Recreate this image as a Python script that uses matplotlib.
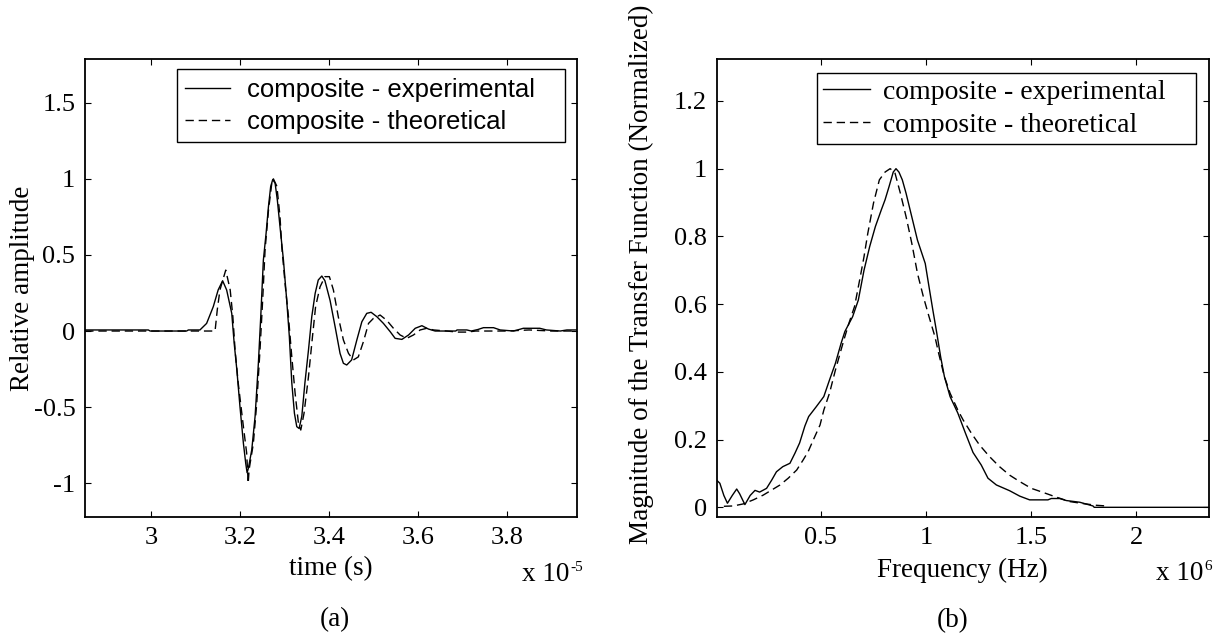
import matplotlib
matplotlib.use("Agg")
import matplotlib.pyplot as plt

# ---------------- data ----------------
# (a) time in units of 1e-5 s
t_exp = [2.852, 2.994, 2.998, 3.080, 3.084, 3.110, 3.125, 3.140, 3.151, 3.161, 3.170,
         3.1815, 3.187, 3.193, 3.200, 3.2077, 3.213, 3.216, 3.219, 3.2265, 3.234,
         3.2414, 3.2467, 3.2526, 3.2587, 3.264, 3.269, 3.2737, 3.279, 3.284, 3.290,
         3.2977, 3.305, 3.311, 3.3165, 3.3224, 3.3277, 3.333, 3.339, 3.346, 3.354,
         3.3614, 3.369, 3.376, 3.384, 3.391, 3.4026, 3.4139, 3.425, 3.4325, 3.440,
         3.451, 3.4627, 3.474, 3.485, 3.4948, 3.5077, 3.5225, 3.5376, 3.5488, 3.564,
         3.579, 3.594, 3.609, 3.6237, 3.6388, 3.665, 3.685, 3.688, 3.71, 3.72,
         3.735, 3.7474, 3.77, 3.785, 3.815, 3.83, 3.837, 3.874, 3.889, 3.92, 3.935, 3.957]
y_exp = [0.007, 0.007, 0.0, 0.0, 0.007, 0.007, 0.05, 0.16, 0.27, 0.33, 0.27,
         0.116, -0.081, -0.256, -0.497, -0.737, -0.87, -0.93, -0.90, -0.78, -0.56,
         -0.21, 0.094, 0.466, 0.641, 0.816, 0.948, 0.995, 0.97, 0.86, 0.685,
         0.466, 0.204, -0.037, -0.34, -0.54, -0.628, -0.64, -0.56, -0.34, -0.125,
         0.094, 0.247, 0.335, 0.361, 0.33, 0.20, 0.028, -0.147, -0.212, -0.223,
         -0.19, -0.059, 0.061, 0.116, 0.123, 0.094, 0.05, -0.004, -0.048, -0.055,
         -0.026, 0.018, 0.035, 0.013, 0.0, 0.0, 0.0, 0.007, 0.007, 0.0,
         0.01, 0.022, 0.022, 0.007, 0.0, 0.012, 0.018, 0.018, 0.007, 0.0, 0.007, 0.007]

t_theo = [2.852, 3.144, 3.149, 3.155, 3.168, 3.178, 3.184, 3.189, 3.196, 3.2077, 3.215,
          3.2185, 3.2205, 3.230, 3.2377, 3.245, 3.251, 3.2564, 3.264, 3.2715, 3.275,
          3.283, 3.290, 3.294, 3.3014, 3.309, 3.3165, 3.324, 3.3314, 3.3367, 3.344,
          3.354, 3.363, 3.370, 3.380, 3.391, 3.401, 3.410, 3.421, 3.4325, 3.444,
          3.455, 3.466, 3.4775, 3.489, 3.500, 3.515, 3.530, 3.545, 3.560, 3.575,
          3.590, 3.605, 3.620, 3.635, 3.665, 3.688, 3.71, 3.73, 3.80, 3.85, 3.90, 3.957]
y_theo = [0.0, 0.0, 0.14, 0.27, 0.40, 0.27, 0.094, -0.125, -0.34, -0.628, -0.80,
          -1.0, -0.91, -0.74, -0.475, -0.125, 0.204, 0.532, 0.79, 0.97, 1.0,
          0.95, 0.75, 0.554, 0.31, 0.094, -0.17, -0.41, -0.605, -0.65, -0.54,
          -0.30, -0.037, 0.16, 0.29, 0.357, 0.357, 0.27, 0.094, -0.059, -0.147,
          -0.19, -0.17, -0.07, 0.05, 0.083, 0.105, 0.07, 0.018, -0.026, -0.048,
          -0.026, 0.007, 0.018, 0.007, 0.0, -0.007, -0.007, 0.0, 0.0, 0.007, 0.0, 0.0]

# (b) frequency in units of 1e6 Hz
f_exp = [0.006, 0.021, 0.04, 0.057, 0.08, 0.101, 0.115, 0.14, 0.165, 0.188, 0.21,
         0.243, 0.267, 0.29, 0.32, 0.354, 0.378, 0.40, 0.425, 0.443, 0.479, 0.515,
         0.542, 0.57, 0.597, 0.615, 0.652, 0.679, 0.706, 0.733, 0.76, 0.788, 0.806,
         0.825, 0.845, 0.858, 0.872, 0.888, 0.906, 0.933, 0.960, 0.997, 1.015, 1.033,
         1.052, 1.070, 1.088, 1.115, 1.152, 1.188, 1.224, 1.263, 1.295, 1.335, 1.398,
         1.446, 1.493, 1.580, 1.596, 1.636, 1.667, 1.731, 1.794, 1.80, 2.344]
m_exp = [0.08, 0.071, 0.035, 0.012, 0.035, 0.054, 0.04, 0.008, 0.035, 0.05, 0.045,
         0.056, 0.08, 0.105, 0.12, 0.13, 0.16, 0.19, 0.24, 0.268, 0.297, 0.327,
         0.376, 0.425, 0.484, 0.519, 0.563, 0.612, 0.70, 0.77, 0.829, 0.878, 0.908,
         0.947, 0.99, 1.0, 0.99, 0.967, 0.927, 0.858, 0.789, 0.72, 0.651, 0.583,
         0.514, 0.445, 0.386, 0.327, 0.278, 0.219, 0.162, 0.125, 0.086, 0.066, 0.049,
         0.033, 0.022, 0.022, 0.026, 0.026, 0.02, 0.015, 0.004, 0.0, 0.0]

f_theo = [0.04, 0.085, 0.132, 0.18, 0.227, 0.267, 0.307, 0.346, 0.386, 0.417, 0.441,
          0.465, 0.497, 0.515, 0.542, 0.570, 0.597, 0.615, 0.634, 0.661, 0.688, 0.706,
          0.724, 0.751, 0.779, 0.806, 0.83, 0.852, 0.879, 0.906, 0.933, 0.960, 0.988,
          1.015, 1.043, 1.061, 1.088, 1.115, 1.152, 1.177, 1.217, 1.255, 1.302, 1.350,
          1.398, 1.446, 1.501, 1.557, 1.62, 1.683, 1.747, 1.81, 1.857]
m_theo = [0.003, 0.004, 0.01, 0.022, 0.036, 0.051, 0.066, 0.086, 0.11, 0.14, 0.165,
          0.199, 0.243, 0.287, 0.337, 0.405, 0.465, 0.504, 0.543, 0.593, 0.68, 0.74,
          0.809, 0.898, 0.967, 0.99, 1.0, 0.99, 0.927, 0.858, 0.78, 0.691, 0.622,
          0.563, 0.504, 0.454, 0.386, 0.337, 0.287, 0.258, 0.218, 0.184, 0.15, 0.12,
          0.095, 0.076, 0.056, 0.044, 0.03, 0.017, 0.011, 0.006, 0.004]

labels = ["composite - experimental", "composite - theoretical"]
xticks_a = [3.0, 3.2, 3.4, 3.6, 3.8]
xticklabels_a = ["3", "3.2", "3.4", "3.6", "3.8"]
yticks_a = [-1, -0.5, 0, 0.5, 1, 1.5]
yticklabels_a = ["-1", "-0.5", "0", "0.5", "1", "1.5"]
xticks_b = [0.5, 1.0, 1.5, 2.0]
xticklabels_b = ["0.5", "1", "1.5", "2"]
yticks_b = [0, 0.2, 0.4, 0.6, 0.8, 1.0, 1.2]
yticklabels_b = ["0", "0.2", "0.4", "0.6", "0.8", "1", "1.2"]
exp_a, exp_b = "-5", "6"

# ---------------- figure ----------------
plt.rcParams["font.family"] = ["Liberation Serif", "DejaVu Serif"]

W, H = 1213, 633
fig = plt.figure(figsize=(W / 100, H / 100), dpi=100)


def fx(px):
    return px / W


def fy(py):
    return 1 - py / H


ax_top, ax_bot = 59.3, 517.3
axa = fig.add_axes([fx(85), fy(ax_bot), fx(576.7 - 85), (ax_bot - ax_top) / H])
axb = fig.add_axes([fx(716.7), fy(ax_bot), fx(1208.7 - 716.7), (ax_bot - ax_top) / H])

FS_TICK = 19
FS_LAB = 19.5
dash = (6, 3.5)

la1, = axa.plot(t_exp, y_exp, color="black", lw=1.0, ls="-")
la2, = axa.plot(t_theo, y_theo, color="black", lw=1.0, ls=(0, dash))
lb1, = axb.plot(f_exp, m_exp, color="black", lw=1.0, ls="-")
lb2, = axb.plot(f_theo, m_theo, color="black", lw=1.0, ls=(0, dash))

axa.set_xlim(2.8516, 3.957)
axa.set_ylim(-1.223, 1.784)
axb.set_xlim(0.006, 2.344)
axb.set_ylim(-0.0295, 1.323)

axa.set_xticks(xticks_a)
axa.set_xticklabels(xticklabels_a)
axa.set_yticks(yticks_a)
axa.set_yticklabels(yticklabels_a)
axb.set_xticks(xticks_b)
axb.set_xticklabels(xticklabels_b)
axb.set_yticks(yticks_b)
axb.set_yticklabels(yticklabels_b)

for ax in (axa, axb):
    ax.tick_params(direction="in", length=4.5, width=0.8, top=True, right=True,
                   labelsize=FS_TICK, pad=7)
    for s in ax.spines.values():
        s.set_linewidth(1.3)

# axis labels
fig.text(fx(331), fy(569), "time (s)", ha="center", va="center", fontsize=FS_LAB)
fig.text(fx(23), fy(288.3), "Relative amplitude", ha="center", va="center",
         rotation=90, fontsize=FS_LAB)
fig.text(fx(962), fy(570), "Frequency (Hz)", ha="center", va="center", fontsize=FS_LAB)
fig.text(fx(641), fy(274), "Magnitude of the Transfer Function (Normalized)",
         ha="center", va="center", rotation=90, fontsize=FS_LAB)
fig.text(fx(335), fy(620), "(a)", ha="center", va="center", fontsize=FS_LAB)
fig.text(fx(953), fy(621), "(b)", ha="center", va="center", fontsize=FS_LAB)

# "x 10^n" multipliers with a small raised exponent
mult_a = fig.text(fx(522), fy(581), "x 10", ha="left", va="baseline", fontsize=FS_LAB)
mult_b = fig.text(fx(1156), fy(580), "x 10", ha="left", va="baseline", fontsize=FS_LAB)
fig.canvas.draw()
r = fig.canvas.get_renderer()
for t, e, base in ((mult_a, exp_a, 581), (mult_b, exp_b, 580)):
    bb = t.get_window_extent(renderer=r)
    fig.text(bb.x1 / W + 0.0006, fy(base - 10), e, ha="left", va="baseline", fontsize=11)

# legends
lga = axa.legend([la1, la2], labels, loc="upper left", mode="expand",
                 bbox_to_anchor=(fx(176.7), fy(141.3), fx(565 - 176.7), (141.3 - 69.3) / H),
                 bbox_transform=fig.transFigure,
                 borderaxespad=0, fancybox=False, shadow=False, framealpha=1,
                 edgecolor="black", handlelength=1.75, handletextpad=0.66,
                 borderpad=0.34, labelspacing=0.3,
                 prop={"family": ["Liberation Sans", "DejaVu Sans"], "size": 18.5})
lga.get_frame().set_linewidth(1.0)
lgb = axb.legend([lb1, lb2], labels, loc="upper left", mode="expand",
                 bbox_to_anchor=(fx(816.7), fy(145.3), fx(1196 - 816.7), (145.3 - 73.3) / H),
                 bbox_transform=fig.transFigure,
                 borderaxespad=0, fancybox=False, shadow=False, framealpha=1,
                 edgecolor="black", handlelength=1.68, handletextpad=0.49,
                 borderpad=0.23, labelspacing=0.25,
                 prop={"family": ["Liberation Serif", "DejaVu Serif"], "size": 20})
lgb.get_frame().set_linewidth(1.0)

fig.savefig("out.png", dpi=100, facecolor="white")
